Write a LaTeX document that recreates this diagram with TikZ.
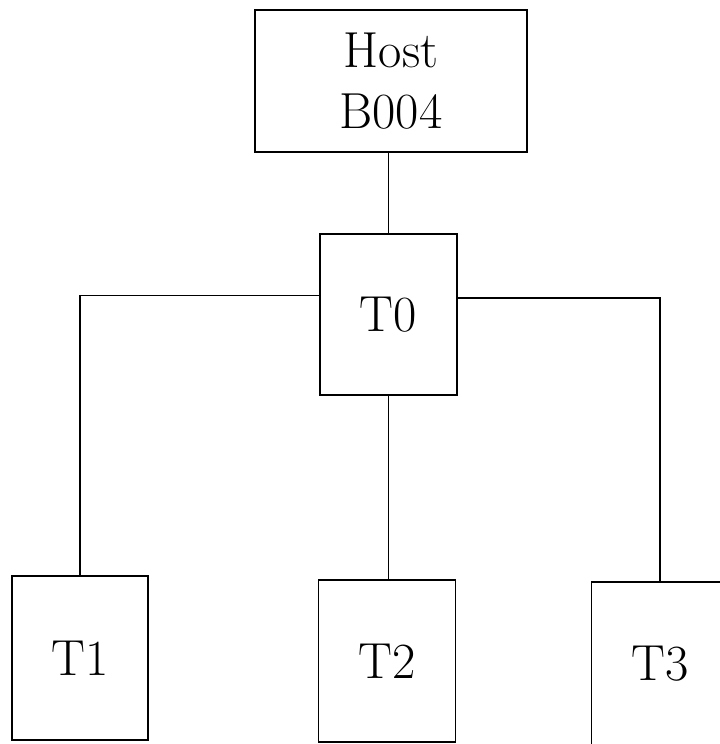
\documentclass[tikz,border=0pt]{standalone}
\usetikzlibrary{calc}
\begin{document}
\begin{tikzpicture}[x=0.75pt,y=-0.75pt,box/.style={draw=black,line width=1.1pt,fill=white,align=center,inner sep=0pt,minimum width=102.75pt,minimum height=121.5pt,font=\fontsize{38}{46}\selectfont},wire/.style={draw=black,line width=1pt}]
\clip (0,0) rectangle (720,744);
\node[box,minimum width=204pt,minimum height=106.5pt] (host) at (391,81) {Host\\B004};
\node[box,minimum height=120.75pt] (t0) at (388.5,314.5) {T0};
\node[box,minimum width=102pt,minimum height=123pt] (t1) at (80,658) {T1};
\node[box] (t2) at (387,661) {T2};
\node[box,minimum height=123pt] (t3) at (660,664) {T3};
\draw[wire] (host.south -| t0.north) -- (t0.north);
\draw[wire] ([yshift=14.5pt]t0.west) -| (t1);
\draw[wire] ([yshift=12.5pt]t0.east) -| (t3);
\draw[wire] (t0.south) -- (t0.south |- t2.north);
\end{tikzpicture}
\end{document}
